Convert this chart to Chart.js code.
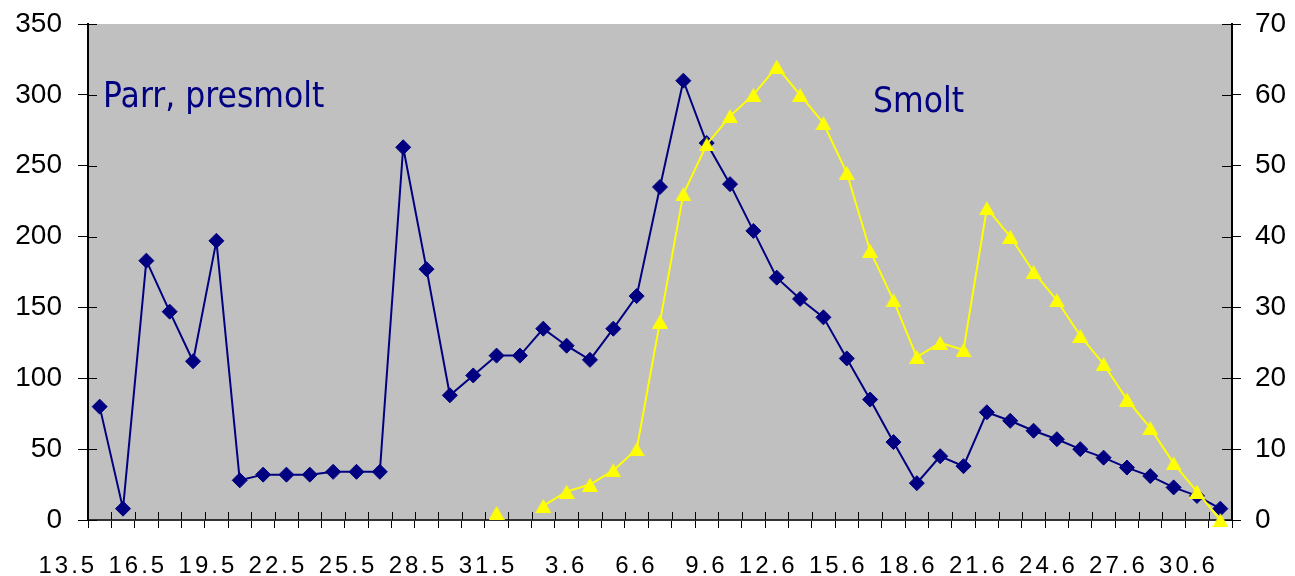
<!DOCTYPE html>
<html>
<head>
<meta charset="utf-8">
<title>Parr, presmolt and smolt</title>
<script src="https://cdn.jsdelivr.net/npm/chart.js@4.4.0/dist/chart.umd.min.js"></script>
<style>
  html, body { margin: 0; padding: 0; background: #ffffff; }
  #wrap { width: 1295px; height: 576px; position: relative; }
</style>
</head>
<body>
<div id="wrap"><canvas id="chart"></canvas></div>
<script>
// Daily dates (day.month), 13 May - 30 June
const dates = [
  '13.5', '14.5', '15.5', '16.5', '17.5', '18.5', '19.5', '20.5', '21.5', '22.5',
  '23.5', '24.5', '25.5', '26.5', '27.5', '28.5', '29.5', '30.5', '31.5',
  '1.6', '2.6', '3.6', '4.6', '5.6', '6.6', '7.6', '8.6', '9.6', '10.6',
  '11.6', '12.6', '13.6', '14.6', '15.6', '16.6', '17.6', '18.6', '19.6', '20.6',
  '21.6', '22.6', '23.6', '24.6', '25.6', '26.6', '27.6', '28.6', '29.6', '30.6'
];

// Parr and presmolt counts (left axis)
const parrPresmolt = [
  80, 8, 183, 147, 112, 197, 28, 32, 32, 32,
  34, 34, 34, 263, 177, 88, 102, 116, 116,
  135, 123, 113, 135, 158, 235, 310, 266, 237, 204,
  171, 156, 143, 114, 85, 55, 26, 45, 38, 76,
  70, 63, 57, 50, 44, 37, 31, 23, 17, 8
];

// Smolt counts (right axis); null = no catch recorded
const smolt = [
  null, null, null, null, null, null, null, null, null, null,
  null, null, null, null, null, null, null, 1, null,
  2, 4, 5, 7, 10, 28, 46, 53, 57, 60,
  64, 60, 56, 49, 38, 31, 23, 25, 24, 44,
  40, 35, 31, 26, 22, 17, 13, 8, 4, 0
];

const leftTicks = { min: 0, max: 350, step: 50 };
const rightTicks = { min: 0, max: 70, step: 10 };

const NAVY = '#000080';
const YELLOW = '#ffff00';
const LABEL_FONT = "'Liberation Sans', Arial, Helvetica, sans-serif";

// Upward triangle marker, centred on its bounding box
function triangleMarker(color) {
  const c = document.createElement('canvas');
  c.width = 16; c.height = 14;
  const g = c.getContext('2d');
  g.fillStyle = color;
  g.beginPath();
  g.moveTo(8, 0);
  g.lineTo(16, 14);
  g.lineTo(0, 14);
  g.closePath();
  g.fill();
  return c;
}

// Caption text in a narrow sans face
function caption(ctx, text, x, y) {
  ctx.save();
  ctx.translate(x, y);
  ctx.scale(0.9, 1);
  ctx.fillText(text, 0, 0);
  ctx.restore();
}

// Fixed axis box sizes so the plot area keeps its place
function fixVertical(width) {
  return (s) => { s.width = width; s.paddingTop = 0; s.paddingBottom = 0; };
}

// Grey plot area, tick marks crossing into the plot, and the series captions
const plotLook = {
  id: 'plotLook',
  beforeDraw(chart) {
    const { ctx, chartArea: a } = chart;
    ctx.save();
    ctx.fillStyle = '#c0c0c0';
    ctx.fillRect(a.left, a.top, a.right - a.left, a.bottom - a.top);
    ctx.restore();
  },
  beforeDatasetsDraw(chart) {
    const { ctx, chartArea: a, scales } = chart;
    ctx.save();
    ctx.strokeStyle = '#000';
    ctx.lineWidth = 1;
    ctx.beginPath();
    scales.y.ticks.forEach((t, i) => {
      const y = Math.round(scales.y.getPixelForTick(i)) + 0.5;
      ctx.moveTo(a.left, y); ctx.lineTo(a.left + 9, y);
    });
    scales.y2.ticks.forEach((t, i) => {
      const y = Math.round(scales.y2.getPixelForTick(i)) + 0.5;
      ctx.moveTo(a.right, y); ctx.lineTo(a.right - 10, y);
    });
    const xs = scales.x;
    const n = xs.ticks.length;
    const half = (xs.getPixelForTick(1) - xs.getPixelForTick(0)) / 2;
    for (let i = 0; i <= n; i++) {
      const px = i < n ? xs.getPixelForTick(i) - half : xs.getPixelForTick(n - 1) + half;
      const x = Math.round(px) + 0.5;
      ctx.moveTo(x, a.bottom); ctx.lineTo(x, a.bottom - 8);
    }
    ctx.stroke();

    ctx.fillStyle = NAVY;
    ctx.font = "35px 'DejaVu Sans', Verdana, sans-serif";
    ctx.textBaseline = 'alphabetic';
    ctx.textAlign = 'left';
    caption(ctx, 'Parr, presmolt', a.left + 15, a.top + 83);
    caption(ctx, 'Smolt', a.left + 785, a.top + 88);
    ctx.restore();
  }
};

const chart = new Chart(document.getElementById('chart'), {
  type: 'line',
  data: {
    labels: dates,
    datasets: [
      {
        label: 'Parr, presmolt',
        data: parrPresmolt,
        yAxisID: 'y',
        order: 2,
        borderColor: NAVY,
        borderWidth: 2,
        pointStyle: 'rectRot',
        pointRadius: 7.5,
        pointBackgroundColor: NAVY,
        pointBorderColor: NAVY,
        pointBorderWidth: 1,
        tension: 0,
        clip: false
      },
      {
        label: 'Smolt',
        data: smolt,
        yAxisID: 'y2',
        order: 1,
        borderColor: YELLOW,
        borderWidth: 2,
        pointStyle: triangleMarker(YELLOW),
        pointRadius: 8,
        pointBackgroundColor: YELLOW,
        pointBorderColor: YELLOW,
        spanGaps: false,
        tension: 0,
        clip: false
      }
    ]
  },
  options: {
    responsive: true,
    maintainAspectRatio: false,
    animation: false,
    events: [],
    layout: { padding: { top: 24, left: 0, right: 0, bottom: 0 } },
    plugins: { legend: { display: false }, tooltip: { enabled: false } },
    scales: {
      x: {
        type: 'category',
        offset: true,
        grid: { offset: true, drawOnChartArea: false, drawTicks: true, tickLength: 8, color: '#000', tickColor: '#000', lineWidth: 1 },
        border: { display: true, color: '#333', width: 2 },
        ticks: {
          autoSkip: false,
          maxRotation: 0,
          minRotation: 0,
          align: 'end',
          labelOffset: -2.5,
          padding: 24,
          color: '#000',
          font: { family: LABEL_FONT, size: 24 },
          callback: (v, i) => (i % 3 === 0 ? dates[i] : '')
        },
        afterFit: (s) => { s.height = 56; s.paddingLeft = 0; s.paddingRight = 0; }
      },
      y: {
        position: 'left',
        min: leftTicks.min,
        max: leftTicks.max,
        grid: { drawOnChartArea: false, tickLength: 10, color: '#000', tickColor: '#000' },
        border: { display: true, color: '#000', width: 2 },
        ticks: { stepSize: leftTicks.step, padding: 16, color: '#000', font: { family: LABEL_FONT, size: 28 } },
        afterFit: fixVertical(88)
      },
      y2: {
        position: 'right',
        min: rightTicks.min,
        max: rightTicks.max,
        grid: { drawOnChartArea: false, tickLength: 9, color: '#000', tickColor: '#000' },
        border: { display: true, color: '#000', width: 2 },
        ticks: { stepSize: rightTicks.step, padding: 14, color: '#000', font: { family: LABEL_FONT, size: 28 } },
        afterFit: fixVertical(63)
      }
    }
  },
  plugins: [plotLook]
});

// Date labels are set with a little extra letter spacing
const xScale = chart.scales.x;
const baseDrawLabels = xScale.drawLabels;
xScale.drawLabels = function (area) {
  this.ctx.save();
  this.ctx.letterSpacing = '3px';
  baseDrawLabels.call(this, area);
  this.ctx.restore();
};
chart.draw();
</script>
</body>
</html>
